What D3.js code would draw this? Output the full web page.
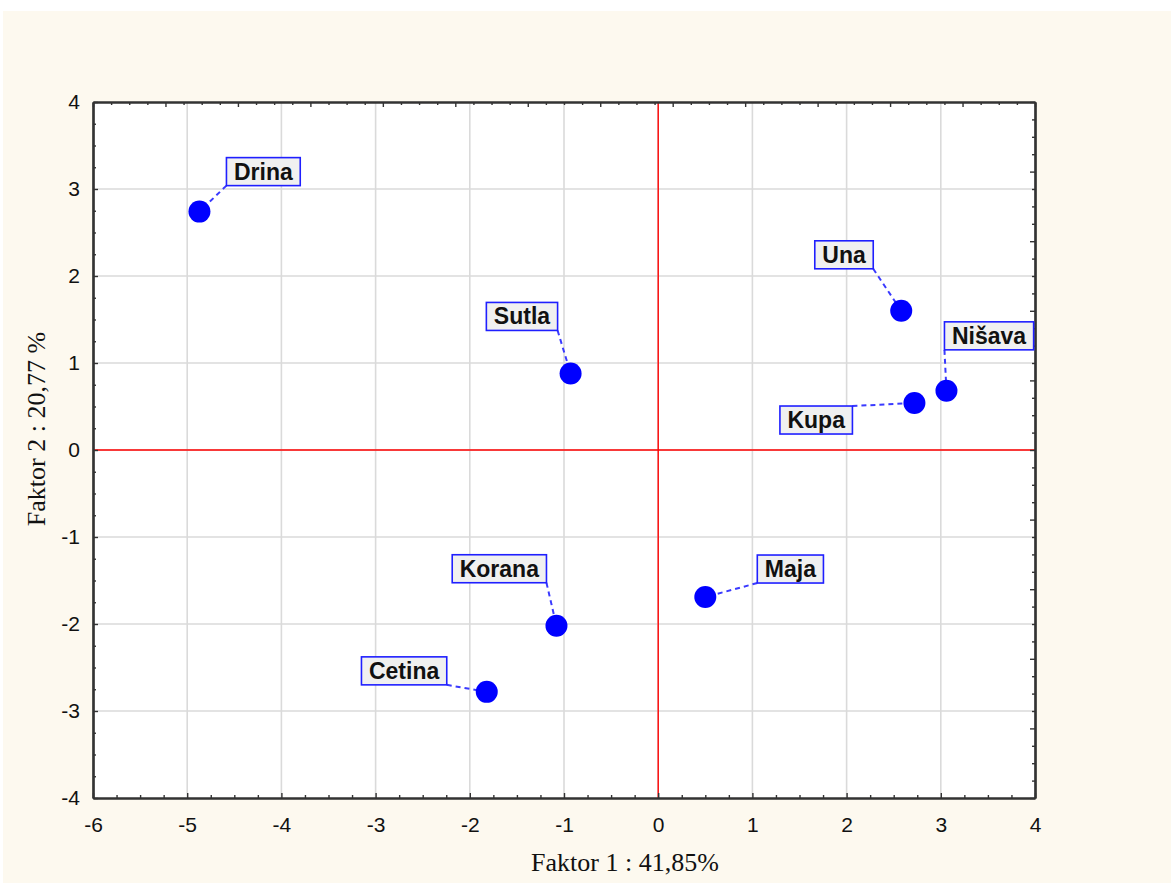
<!DOCTYPE html>
<html>
<head>
<meta charset="utf-8">
<script src="https://cdn.jsdelivr.net/npm/d3@7"></script>
<style>
  body { margin: 0; background: #ffffff; }
  svg { display: block; }
</style>
</head>
<body>
<div id="chart"></div>
<script>
// factor scores
var rivers = ["Drina", "Sutla", "Una", "Nišava", "Kupa", "Maja", "Korana", "Cetina"];
var faktor1 = [-4.87, -0.93, 2.58, 3.06, 2.72, 0.50, -1.08, -1.82];
var faktor2 = [2.74, 0.88, 1.60, 0.68, 0.54, -1.69, -2.02, -2.78];

var xTicks = [-6, -5, -4, -3, -2, -1, 0, 1, 2, 3, 4];
var yTicks = [-4, -3, -2, -1, 0, 1, 2, 3, 4];

// where each label box sits relative to its point (pixels), and which corner the leader hits
var labelPlace = {
  "Drina":  { dx: 27,  dy: -26, corner: "bl" },
  "Sutla":  { dx: -13, dy: -43, corner: "br" },
  "Una":    { dx: -28, dy: -42, corner: "br" },
  "Nišava": { dx: -2,  dy: -41, corner: "bl" },
  "Kupa":   { dx: -62, dy: 3,   corner: "tr" },
  "Maja":   { dx: 52,  dy: -14, corner: "bl" },
  "Korana": { dx: -10, dy: -43, corner: "br" },
  "Cetina": { dx: -40, dy: -7,  corner: "br" }
};

var W = 1171, H = 883;
var margin = { left: 93, top: 102, right: 136, bottom: 85 };
var w = W - margin.left - margin.right,
    h = H - margin.top - margin.bottom;

var svg = d3.select("#chart").append("svg")
    .attr("width", W)
    .attr("height", H);

// cream page
svg.append("rect")
    .attr("x", 3).attr("y", 11)
    .attr("width", W - 3).attr("height", H - 11)
    .attr("fill", "#fdf9ef");

var g = svg.append("g")
    .attr("transform", "translate(" + margin.left + "," + margin.top + ")");

var x = d3.scaleLinear().domain([-6, 4]).range([0, w]);
var y = d3.scaleLinear().domain([-4, 4]).range([h, 0]);

g.append("rect").attr("width", w).attr("height", h).attr("fill", "#fff");

// grid
g.selectAll(".vgrid").data(xTicks.slice(1, -1)).enter().append("line")
    .attr("x1", function(d){ return x(d); }).attr("x2", function(d){ return x(d); })
    .attr("y1", 0).attr("y2", h)
    .attr("stroke", "#dadada").attr("stroke-width", 1.6);
g.selectAll(".hgrid").data(yTicks.slice(1, -1)).enter().append("line")
    .attr("y1", function(d){ return y(d); }).attr("y2", function(d){ return y(d); })
    .attr("x1", 0).attr("x2", w)
    .attr("stroke", "#dadada").attr("stroke-width", 1.6);

// red zero lines
g.append("line").attr("x1", x(0)).attr("x2", x(0)).attr("y1", 0).attr("y2", h)
    .attr("stroke", "#ff0000").attr("stroke-width", 1.4);
g.append("line").attr("x1", 0).attr("x2", w).attr("y1", y(0)).attr("y2", y(0))
    .attr("stroke", "#ff0000").attr("stroke-width", 1.4);

// axes: major ticks with labels, minor ticks at quarters, all pointing inward
function quarters(lo, hi) {
  var out = [];
  for (var v = lo * 4; v <= hi * 4; v++) if (v % 4 !== 0) out.push(v / 4);
  return out;
}

var tickFont = "'Liberation Sans', Arial, sans-serif";
var plain = function(d){ return String(d); };   // keep the hyphen-minus

g.append("g").attr("transform", "translate(0," + h + ")")
    .call(d3.axisBottom(x).tickValues(xTicks).tickSize(-5).tickSizeOuter(0).tickPadding(19).tickFormat(plain));
g.append("g").attr("transform", "translate(0," + h + ")")
    .call(d3.axisBottom(x).tickValues(quarters(-6, 4)).tickSize(-3).tickSizeOuter(0).tickFormat(""));

g.append("g")
    .call(d3.axisLeft(y).tickValues(yTicks).tickSize(-5).tickSizeOuter(0).tickPadding(13).tickFormat(plain));
g.append("g")
    .call(d3.axisLeft(y).tickValues(quarters(-4, 4)).tickSize(-3).tickSizeOuter(0).tickFormat(""));

// top and right frame carry their own (unlabelled) tick spacing
var xTop = d3.scaleLinear().domain([0, 13]).range([0, w]);
var yRight = d3.scaleLinear().domain([0, 10]).range([0, h]);
g.append("g").call(d3.axisTop(xTop).ticks(13).tickSize(-5).tickSizeOuter(0).tickFormat(""));
g.append("g").call(d3.axisTop(xTop).tickValues(quarters(0, 13)).tickSize(-3).tickSizeOuter(0).tickFormat(""));
g.append("g").attr("transform", "translate(" + w + ",0)")
    .call(d3.axisRight(yRight).ticks(10).tickSize(-5).tickSizeOuter(0).tickFormat(""));
g.append("g").attr("transform", "translate(" + w + ",0)")
    .call(d3.axisRight(yRight).tickValues(quarters(0, 10)).tickSize(-3).tickSizeOuter(0).tickFormat(""));

g.selectAll(".domain").attr("stroke", "#333").attr("stroke-width", 2.2);
g.selectAll(".tick line").attr("stroke", "#333").attr("stroke-width", 1.4);
g.selectAll(".tick text")
    .attr("font-family", tickFont).attr("font-size", 21).attr("fill", "#111");

// axis titles
svg.append("text")
    .attr("x", 625).attr("y", 871)
    .attr("text-anchor", "middle")
    .attr("font-family", "'Liberation Serif', 'Times New Roman', serif")
    .attr("font-size", 26).attr("fill", "#111")
    .text("Faktor 1 : 41,85%");
svg.append("text")
    .attr("transform", "translate(45,429) rotate(-90)")
    .attr("text-anchor", "middle")
    .attr("font-family", "'Liberation Serif', 'Times New Roman', serif")
    .attr("font-size", 26).attr("fill", "#111")
    .text("Faktor 2 : 20,77 %");

// points + labels
var pts = rivers.map(function(name, i){
  return { name: name, px: x(faktor1[i]), py: y(faktor2[i]), place: labelPlace[name] };
});

var leaders = g.append("g");
var labels = g.append("g");

pts.forEach(function(p){
  var t = labels.append("text")
      .attr("font-family", tickFont).attr("font-weight", "bold")
      .attr("font-size", 23).attr("fill", "#111")
      .text(p.name);
  var tw = t.node().getComputedTextLength();
  var bw = tw + 15, bh = 28;
  var cx = p.px + p.place.dx, cy = p.py + p.place.dy;   // corner position
  var bx = p.place.corner.charAt(1) === "l" ? cx : cx - bw;
  var by = p.place.corner.charAt(0) === "t" ? cy : cy - bh;

  labels.insert("rect", "text")
      .attr("x", bx).attr("y", by).attr("width", bw).attr("height", bh)
      .attr("fill", "#f0f0f0").attr("stroke", "#1f1fff").attr("stroke-width", 1.6);
  t.attr("x", bx + bw / 2).attr("y", by + bh / 2 + 8).attr("text-anchor", "middle").raise();

  leaders.append("line")
      .attr("x1", cx).attr("y1", cy).attr("x2", p.px).attr("y2", p.py)
      .attr("stroke", "#3a3aff").attr("stroke-width", 2)
      .attr("stroke-dasharray", "5,4");
});

g.append("g").selectAll("circle").data(pts).enter().append("circle")
    .attr("cx", function(d){ return d.px; })
    .attr("cy", function(d){ return d.py; })
    .attr("r", 11)
    .attr("fill", "#0000ff");
</script>
</body>
</html>
